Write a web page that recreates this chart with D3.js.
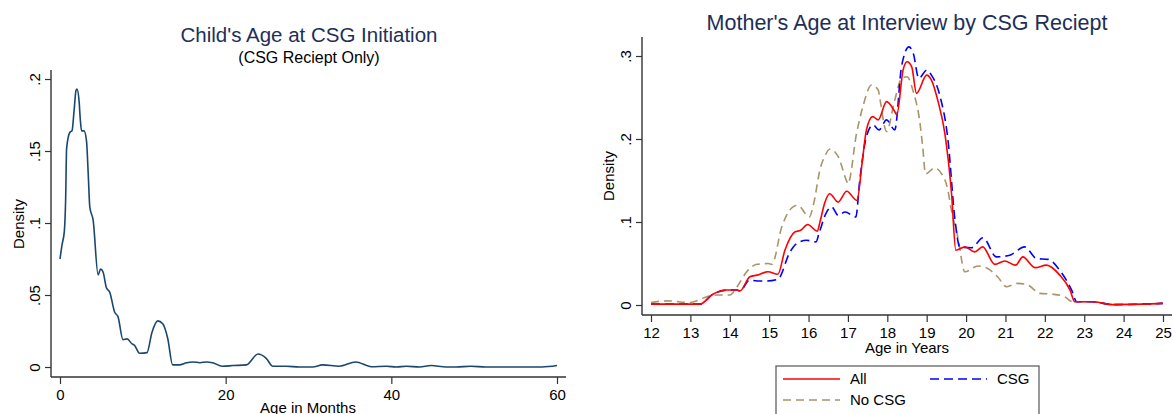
<!DOCTYPE html>
<html>
<head>
<meta charset="utf-8">
<script src="https://cdn.jsdelivr.net/npm/d3@7"></script>
<style>
  html, body { margin: 0; padding: 0; background: #fff; }
  svg { display: block; font-family: "Liberation Sans", Arial, sans-serif; }
</style>
</head>
<body>
<svg id="chart" width="1173" height="414"></svg>
<script>
// Left panel: child's age at CSG initiation (months) — kernel density
const childAge  = [0, 0.25, 0.52, 0.68, 0.8, 1.2, 1.45, 1.7, 1.93, 2.05, 2.3, 2.45, 2.6, 2.9, 3.2, 3.4, 3.6, 4.0,
  4.6, 4.9, 5.2, 5.6, 6.0, 6.6, 7.0, 7.6, 8.1, 8.7, 9.0, 9.6, 10.5, 11.1, 11.8, 12.4, 13.0, 13.6, 14.4,
  15.3, 16.0, 16.9, 17.7, 18.4, 19.6, 20.9, 22.5, 23.9, 24.9, 25.7, 27.3, 28.9, 30.5, 31.7, 33.7, 35.7,
  37.6, 39.4, 40.6, 41.8, 43.4, 44.8, 46.6, 47.8, 49.6, 51.4, 54.6, 58.2, 60];
const childDens = [0.075, 0.085, 0.094, 0.116, 0.152, 0.163, 0.164, 0.178, 0.192, 0.193, 0.185, 0.172, 0.164, 0.164, 0.157, 0.135, 0.111, 0.102,
  0.064, 0.068, 0.066, 0.055, 0.052, 0.038, 0.035, 0.019, 0.0195, 0.016, 0.015, 0.0095, 0.010, 0.024, 0.032, 0.030, 0.020, 0.0015, 0.0015,
  0.003, 0.0035, 0.003, 0.0035, 0.003, 0.0005, 0.001, 0.0015, 0.009, 0.006, 0.0005, 0.0005, 0.0, 0.0, 0.0015, 0.0005, 0.0035,
  0.0002, 0.0005, 0.0, 0.0005, 0.0, 0.001, 0.0, 0.0, 0.0005, 0.0, 0.0, 0.0, 0.001];

const childXTicks = [0, 20, 40, 60];
const childYTicks = [0, 0.05, 0.1, 0.15, 0.2];

// Right panel: mother's age at interview (years), by CSG receipt
const allAge  = [12, 13.24, 13.57, 13.93, 14.18, 14.26, 14.51, 14.69, 14.97, 15.22, 15.4, 15.65, 15.8, 15.98, 16.22, 16.29,
  16.41, 16.54, 16.75, 16.97, 17.23, 17.36, 17.47, 17.63, 17.77, 17.98, 18.19, 18.24, 18.4, 18.5, 18.62, 18.74, 19.0,
  19.12, 19.29, 19.46, 19.63, 19.74, 19.97, 20.22, 20.42, 20.73, 20.98, 21.26, 21.44, 21.75, 22.04, 22.38, 22.64,
  22.76, 23.2, 23.72, 24.5, 25];
const allDens = [0.001, 0.001, 0.013, 0.018, 0.018, 0.017, 0.034, 0.036, 0.040, 0.037, 0.066, 0.088, 0.090, 0.097, 0.089, 0.100,
  0.123, 0.134, 0.124, 0.137, 0.126, 0.171, 0.211, 0.227, 0.223, 0.245, 0.233, 0.229, 0.283, 0.293, 0.287, 0.255, 0.277,
  0.271, 0.245, 0.207, 0.135, 0.066, 0.070, 0.064, 0.070, 0.049, 0.053, 0.048, 0.058, 0.045, 0.048, 0.036, 0.018,
  0.004, 0.004, 0.0005, 0.001, 0.002];

const csgAge  = [12, 13.24, 13.57, 13.93, 14.18, 14.26, 14.5, 14.7, 14.95, 15.22, 15.53, 15.7, 15.95, 16.19, 16.27, 16.46,
  16.59, 16.75, 16.93, 17.2, 17.3, 17.47, 17.64, 17.79, 17.98, 18.19, 18.36, 18.55, 18.66, 18.8, 19.0, 19.12, 19.33,
  19.54, 19.72, 19.84, 20.14, 20.43, 20.77, 21.11, 21.49, 21.79, 22.08, 22.42, 22.68, 22.81, 23.2, 23.72, 24.5, 25];
const csgDens = [0.001, 0.001, 0.013, 0.018, 0.018, 0.017, 0.030, 0.029, 0.029, 0.031, 0.064, 0.074, 0.078, 0.076, 0.087, 0.112,
  0.118, 0.108, 0.112, 0.106, 0.150, 0.203, 0.217, 0.211, 0.223, 0.211, 0.287, 0.311, 0.303, 0.273, 0.283, 0.277, 0.253,
  0.199, 0.102, 0.070, 0.069, 0.081, 0.058, 0.060, 0.070, 0.056, 0.055, 0.039, 0.018, 0.004, 0.004, 0.0005, 0.001, 0.002];

const noCsgAge  = [12, 12.4, 12.99, 13.42, 13.67, 14.0, 14.2, 14.43, 14.69, 14.98, 15.07, 15.32, 15.6, 15.73, 16.02, 16.12,
  16.3, 16.42, 16.54, 16.75, 16.97, 17.0, 17.22, 17.38, 17.6, 17.77, 17.81, 17.98, 18.19, 18.36, 18.5, 18.66, 18.83,
  18.9, 18.97, 19.2, 19.38, 19.54, 19.62, 19.79, 19.97, 20.3, 20.55, 20.8, 21.03, 21.31, 21.57, 21.87, 22.2, 22.5,
  22.71, 23.2, 23.72, 24.5, 25];
const noCsgDens = [0.003, 0.005, 0.003, 0.010, 0.012, 0.012, 0.023, 0.040, 0.049, 0.050, 0.049, 0.094, 0.118, 0.120, 0.106, 0.120,
  0.165, 0.180, 0.188, 0.179, 0.149, 0.146, 0.207, 0.239, 0.265, 0.259, 0.249, 0.209, 0.247, 0.273, 0.275, 0.257, 0.219,
  0.190, 0.158, 0.165, 0.158, 0.138, 0.116, 0.082, 0.040, 0.047, 0.044, 0.034, 0.022, 0.026, 0.024, 0.014, 0.013, 0.010,
  0.004, 0.004, 0.0005, 0.001, 0.002];

const motherXTicks = d3.range(12, 26);
const motherYTicks = [0, 0.1, 0.2, 0.3];

const series = [
  { name: 'All',    age: allAge,   dens: allDens,   color: '#ff0000', dash: null },
  { name: 'CSG',    age: csgAge,   dens: csgDens,   color: '#0000ff', dash: '9,5' },
  { name: 'No CSG', age: noCsgAge, dens: noCsgDens, color: '#a8956a', dash: '8,5' },
];

const TITLE_COLOR = '#1e2f57';
const AXIS_COLOR = '#333';
const FS = 15; // tick / axis-title size
const svg = d3.select('#chart');

const stataFmt = v => v === 0 ? '0' : String(+v.toFixed(3)).replace(/^0/, '');

function drawAxes(g, x, y, box, xTicks, yTicks) {
  // axis lines run a little past the data range, Stata style
  g.append('line').attr('x1', box.left).attr('x2', box.left).attr('y1', box.top).attr('y2', box.bottom)
    .attr('stroke', AXIS_COLOR).attr('stroke-width', 1.4);
  g.append('line').attr('x1', box.left).attr('x2', box.right).attr('y1', box.bottom).attr('y2', box.bottom)
    .attr('stroke', AXIS_COLOR).attr('stroke-width', 1.4);

  const ya = g.append('g').attr('transform', `translate(${box.left},0)`)
    .call(d3.axisLeft(y).tickValues(yTicks).tickFormat(stataFmt).tickSize(6).tickSizeOuter(0));
  ya.select('.domain').remove();
  ya.selectAll('line').attr('stroke', AXIS_COLOR).attr('stroke-width', 1.2);
  ya.selectAll('text')
    .attr('x', null).attr('dy', null)
    .attr('transform', 'translate(-11,0) rotate(-90)')
    .attr('text-anchor', 'middle')
    .attr('font-size', FS).attr('fill', '#000')
    .style('font-family', '"Liberation Sans", Arial, sans-serif');

  const xa = g.append('g').attr('transform', `translate(0,${box.bottom})`)
    .call(d3.axisBottom(x).tickValues(xTicks).tickFormat(d3.format('d')).tickSize(7).tickSizeOuter(0));
  xa.select('.domain').remove();
  xa.selectAll('line').attr('stroke', AXIS_COLOR).attr('stroke-width', 1.2);
  xa.selectAll('text')
    .attr('y', 22.5).attr('dy', null)
    .attr('font-size', FS).attr('fill', '#000')
    .style('font-family', '"Liberation Sans", Arial, sans-serif');
}

function yLabel(g, x, y, text) {
  g.append('text').attr('transform', `translate(${x},${y}) rotate(-90)`)
    .attr('text-anchor', 'middle').attr('font-size', FS).attr('fill', '#000').text(text);
}

// ---------- left panel ----------
{
  const box = { left: 51, right: 566, top: 70, bottom: 377 };
  const x = d3.scaleLinear().domain([0, 60]).range([60, 557]);
  const y = d3.scaleLinear().domain([0, 0.2]).range([367, 79]);
  const g = svg.append('g');

  g.append('text').attr('x', 309).attr('y', 42).attr('text-anchor', 'middle')
    .attr('font-size', 20.5).attr('fill', TITLE_COLOR).text("Child's Age at CSG Initiation");
  g.append('text').attr('x', 309).attr('y', 63).attr('text-anchor', 'middle')
    .attr('font-size', 16).attr('fill', '#000').text('(CSG Reciept Only)');

  drawAxes(g, x, y, box, childXTicks, childYTicks);
  yLabel(g, 24, 224, 'Density');
  g.append('text').attr('x', 308).attr('y', 413).attr('text-anchor', 'middle')
    .attr('font-size', FS).attr('fill', '#000').text('Age in Months');

  const line = d3.line().x((d, i) => x(childAge[i])).y(d => y(d)).curve(d3.curveMonotoneX);
  g.append('path').attr('d', line(childDens))
    .attr('fill', 'none').attr('stroke', '#1a476f').attr('stroke-width', 1.6);
}

// ---------- right panel ----------
{
  const box = { left: 642, right: 1172, top: 37, bottom: 315 };
  const x = d3.scaleLinear().domain([12, 25]).range([651, 1163]);
  const y = d3.scaleLinear().domain([0, 0.3]).range([305, 56]);
  const g = svg.append('g');

  g.append('text').attr('x', 907).attr('y', 29.5).attr('text-anchor', 'middle')
    .attr('font-size', 21.5).attr('fill', TITLE_COLOR).text("Mother's Age at Interview by CSG Reciept");

  drawAxes(g, x, y, box, motherXTicks, motherYTicks);
  yLabel(g, 614, 176, 'Density');
  g.append('text').attr('x', 907).attr('y', 353).attr('text-anchor', 'middle')
    .attr('font-size', FS).attr('fill', '#000').text('Age in Years');

  for (const s of [series[2], series[1], series[0]]) {
    const line = d3.line().x((d, i) => x(s.age[i])).y(d => y(d)).curve(d3.curveMonotoneX);
    g.append('path').attr('d', line(s.dens))
      .attr('fill', 'none').attr('stroke', s.color).attr('stroke-width', 1.6)
      .attr('stroke-dasharray', s.dash);
  }

  // legend (two columns, filled row-wise)
  const lg = g.append('g');
  lg.append('rect').attr('x', 776).attr('y', 366).attr('width', 263).attr('height', 60)
    .attr('fill', '#fff').attr('stroke', '#555').attr('stroke-width', 1.2);
  const slots = [[783, 379], [930, 379], [783, 400]];
  series.forEach((s, i) => {
    const [lx, ly] = slots[i];
    lg.append('line').attr('x1', lx).attr('x2', lx + 57).attr('y1', ly).attr('y2', ly)
      .attr('stroke', s.color).attr('stroke-width', 1.6).attr('stroke-dasharray', s.dash);
    lg.append('text').attr('x', lx + 67).attr('y', ly + 5).attr('font-size', FS).attr('fill', '#000').text(s.name);
  });
}
</script>
</body>
</html>
